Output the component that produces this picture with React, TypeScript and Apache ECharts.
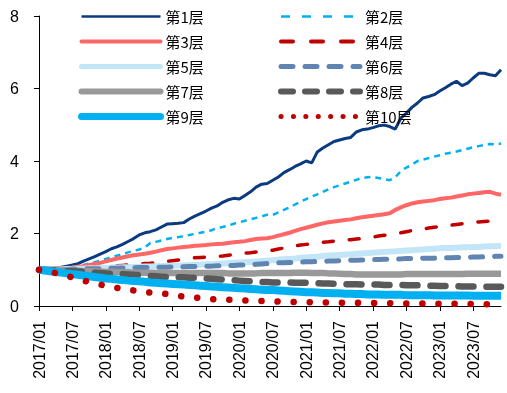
import React, { useEffect, useRef } from "react";
import * as echarts from "echarts";

// monthly categories 2017/01 .. 2023/12
const months: string[] = [];
for (let y = 2017; y <= 2023; y++) {
  for (let m = 1; m <= 12; m++) months.push(`${y}/${m < 10 ? "0" + m : m}`);
}

const names = ["第1层", "第2层", "第3层", "第4层", "第5层", "第6层", "第7层", "第8层", "第9层", "第10层"];

const s1 = [
  1.00,1.01,1.03,1.05,1.07,1.10,1.13,1.17,1.24,1.30,1.36,1.43,
  1.50,1.58,1.63,1.70,1.78,1.86,1.96,2.02,2.05,2.10,2.18,2.26,
  2.27,2.28,2.30,2.40,2.48,2.55,2.62,2.70,2.76,2.86,2.93,2.97,
  2.95,3.05,3.15,3.28,3.36,3.38,3.47,3.56,3.68,3.76,3.85,3.92,
  4.00,3.95,4.25,4.36,4.45,4.54,4.58,4.62,4.65,4.80,4.86,4.88,
  4.92,4.97,4.99,4.95,4.88,5.18,5.32,5.48,5.60,5.74,5.78,5.83,
  5.93,6.02,6.12,6.20,6.08,6.15,6.29,6.42,6.42,6.38,6.35,6.52,
];
const s2 = [
  1.00,1.01,1.02,1.03,1.04,1.06,1.08,1.10,1.13,1.17,1.21,1.25,
  1.30,1.35,1.39,1.43,1.48,1.52,1.56,1.61,1.74,1.77,1.81,1.85,
  1.88,1.90,1.93,1.96,1.99,2.02,2.05,2.09,2.15,2.18,2.22,2.27,
  2.31,2.35,2.39,2.43,2.47,2.52,2.51,2.58,2.65,2.72,2.80,2.88,
  2.95,3.02,3.08,3.15,3.22,3.28,3.33,3.38,3.43,3.48,3.53,3.55,
  3.56,3.53,3.50,3.47,3.55,3.72,3.82,3.90,4.00,4.04,4.08,4.12,
  4.16,4.20,4.23,4.26,4.30,4.34,4.38,4.41,4.44,4.47,4.46,4.48,
];
const s3 = [
  1.00,1.01,1.02,1.03,1.04,1.05,1.06,1.08,1.10,1.13,1.16,1.19,
  1.23,1.27,1.31,1.34,1.37,1.40,1.42,1.44,1.47,1.50,1.54,1.57,
  1.59,1.61,1.63,1.64,1.66,1.67,1.68,1.70,1.71,1.72,1.74,1.76,
  1.77,1.79,1.82,1.85,1.86,1.87,1.90,1.94,1.98,2.02,2.07,2.12,
  2.16,2.20,2.24,2.28,2.31,2.33,2.35,2.37,2.39,2.42,2.45,2.47,
  2.49,2.51,2.53,2.56,2.65,2.72,2.78,2.83,2.86,2.88,2.90,2.92,
  2.95,2.97,2.99,3.02,3.05,3.08,3.10,3.12,3.14,3.15,3.10,3.07,
];
const s4 = [
  1.00,1.00,1.01,1.01,1.02,1.02,1.03,1.04,1.05,1.06,1.07,1.08,
  1.09,1.10,1.11,1.12,1.13,1.14,1.15,1.17,1.18,1.20,1.21,1.23,
  1.25,1.27,1.29,1.31,1.33,1.34,1.35,1.36,1.37,1.38,1.40,1.42,
  1.44,1.46,1.47,1.49,1.51,1.52,1.54,1.57,1.60,1.63,1.66,1.68,
  1.70,1.72,1.74,1.76,1.77,1.79,1.81,1.82,1.83,1.85,1.86,1.88,
  1.90,1.93,1.95,1.97,1.99,2.02,2.05,2.08,2.10,2.12,2.15,2.17,
  2.19,2.21,2.23,2.25,2.27,2.29,2.31,2.32,2.33,2.34,2.35,2.35,
];
const s5 = [
  1.00,1.00,1.01,1.01,1.01,1.02,1.02,1.03,1.03,1.04,1.04,1.05,
  1.05,1.06,1.06,1.07,1.07,1.08,1.08,1.09,1.09,1.10,1.10,1.11,
  1.11,1.12,1.12,1.13,1.13,1.14,1.15,1.15,1.16,1.17,1.18,1.19,
  1.20,1.21,1.22,1.23,1.24,1.25,1.26,1.28,1.29,1.30,1.31,1.33,
  1.34,1.35,1.36,1.38,1.39,1.40,1.41,1.42,1.43,1.44,1.45,1.46,
  1.47,1.48,1.49,1.50,1.51,1.52,1.53,1.54,1.55,1.56,1.57,1.58,
  1.59,1.60,1.60,1.61,1.62,1.62,1.63,1.63,1.64,1.65,1.65,1.66,
];
const s6 = [
  1.00,1.00,1.00,1.01,1.01,1.01,1.02,1.02,1.02,1.03,1.03,1.03,
  1.04,1.04,1.04,1.05,1.05,1.05,1.06,1.06,1.06,1.07,1.07,1.07,
  1.08,1.08,1.08,1.09,1.09,1.10,1.10,1.10,1.11,1.11,1.12,1.12,
  1.13,1.13,1.14,1.15,1.16,1.17,1.18,1.19,1.19,1.20,1.21,1.21,
  1.22,1.22,1.23,1.23,1.24,1.24,1.25,1.25,1.26,1.26,1.27,1.27,
  1.28,1.28,1.29,1.29,1.30,1.30,1.31,1.31,1.31,1.32,1.32,1.32,
  1.33,1.33,1.33,1.34,1.34,1.34,1.35,1.35,1.36,1.36,1.37,1.37,
];
const s7 = [
  1.00,1.00,0.99,0.99,0.98,0.98,0.97,0.97,0.96,0.96,0.95,0.95,
  0.94,0.94,0.93,0.93,0.93,0.92,0.92,0.92,0.92,0.91,0.91,0.91,
  0.91,0.91,0.91,0.91,0.91,0.91,0.91,0.91,0.91,0.91,0.90,0.90,
  0.90,0.90,0.90,0.90,0.91,0.91,0.91,0.91,0.91,0.91,0.92,0.92,
  0.92,0.91,0.91,0.91,0.90,0.90,0.89,0.88,0.88,0.87,0.87,0.87,
  0.87,0.87,0.87,0.87,0.87,0.87,0.88,0.88,0.88,0.88,0.88,0.88,
  0.88,0.88,0.88,0.88,0.88,0.89,0.89,0.89,0.89,0.89,0.89,0.89,
];
const s8 = [
  1.00,0.99,0.99,0.98,0.97,0.96,0.96,0.95,0.94,0.93,0.92,0.91,
  0.90,0.89,0.89,0.88,0.87,0.86,0.85,0.84,0.83,0.82,0.81,0.80,
  0.80,0.79,0.79,0.78,0.78,0.77,0.76,0.75,0.74,0.73,0.72,0.71,
  0.70,0.69,0.68,0.67,0.66,0.66,0.65,0.65,0.65,0.65,0.64,0.64,
  0.64,0.63,0.63,0.62,0.62,0.61,0.61,0.60,0.60,0.60,0.59,0.59,
  0.59,0.59,0.58,0.58,0.58,0.58,0.57,0.57,0.57,0.56,0.56,0.56,
  0.55,0.55,0.55,0.55,0.54,0.54,0.54,0.54,0.53,0.53,0.53,0.53,
];
const s9 = [
  1.00,0.98,0.96,0.94,0.92,0.90,0.88,0.86,0.84,0.82,0.80,0.78,
  0.76,0.75,0.73,0.72,0.70,0.69,0.68,0.67,0.65,0.64,0.63,0.62,
  0.61,0.60,0.59,0.58,0.57,0.56,0.55,0.54,0.53,0.52,0.51,0.50,
  0.49,0.48,0.47,0.46,0.45,0.44,0.44,0.43,0.42,0.41,0.40,0.39,
  0.38,0.38,0.37,0.36,0.36,0.35,0.35,0.34,0.34,0.33,0.33,0.32,
  0.32,0.32,0.31,0.31,0.31,0.31,0.30,0.30,0.30,0.30,0.30,0.29,
  0.29,0.29,0.29,0.29,0.29,0.29,0.28,0.28,0.28,0.28,0.28,0.28,
];
const s10 = [
  1.00,0.97,0.94,0.91,0.87,0.83,0.79,0.74,0.70,0.66,0.62,0.59,
  0.56,0.53,0.50,0.48,0.45,0.43,0.40,0.38,0.37,0.36,0.35,0.33,
  0.30,0.28,0.26,0.24,0.23,0.22,0.20,0.19,0.18,0.18,0.17,0.17,
  0.16,0.15,0.15,0.14,0.14,0.13,0.13,0.12,0.12,0.12,0.11,0.11,
  0.11,0.10,0.10,0.10,0.10,0.09,0.09,0.09,0.09,0.09,0.08,0.08,
  0.08,0.08,0.08,0.08,0.07,0.07,0.07,0.07,0.07,0.07,0.07,0.06,
  0.06,0.06,0.06,0.06,0.06,0.06,0.05,0.05,0.05,0.05,0.05,0.05,
];

const seriesData = [s1, s2, s3, s4, s5, s6, s7, s8, s9, s10];
const colors = ["#0b3a7e", "#00b0f0", "#ff6666", "#c00000", "#c2e6f7", "#6185b2", "#999999", "#595959", "#00b0f0", "#c00000"];

const chartLine: any[] = [
  { width: 3, type: "solid" },
  { width: 2.5, type: [6, 5] },
  { width: 4, type: "solid" },
  { width: 3.5, type: [10, 16], cap: "round" },
  { width: 6, type: "solid" },
  { width: 5, type: [12, 12], cap: "round" },
  { width: 6.5, type: "solid" },
  { width: 6.5, type: [15, 13], cap: "round" },
  { width: 8, type: "solid" },
  { width: 6.5, type: [0.1, 16], cap: "round" },
];
const legendLine: any[] = [
  { width: 2.5, type: "solid" },
  { width: 2.5, type: [9, 12] },
  { width: 4, type: "solid", cap: "round" },
  { width: 4, type: [12, 18], cap: "round" },
  { width: 5, type: "solid", cap: "round" },
  { width: 5, type: [12, 12], cap: "round" },
  { width: 6, type: "solid", cap: "round" },
  { width: 6, type: [12, 12], cap: "round" },
  { width: 7, type: "solid", cap: "round" },
  { width: 5, type: [0.1, 12.3], cap: "round" },
];

export default function App() {
  const ref = useRef<HTMLDivElement>(null);
  useEffect(() => {
    if (!ref.current) return;
    const chart = echarts.init(ref.current, undefined, { renderer: "svg" });
    const legendText = { fontFamily: "Noto Sans CJK SC", fontSize: 15, color: "#000" };
    const mkLegend = (idx: number[], left: number) => ({
      orient: "vertical",
      left,
      top: 9,
      padding: 0,
      itemWidth: 79,
      itemHeight: 14,
      itemGap: 10,
      selectedMode: false,
      textStyle: legendText,
      data: idx.map((i) => ({
        name: names[i],
        itemStyle: { opacity: 0 },
        lineStyle: { color: colors[i], ...legendLine[i] },
      })),
    });
    chart.setOption({
      animation: false,
      grid: { left: 39, right: 6, top: 16, bottom: 87 },
      legend: [mkLegend([0, 2, 4, 6, 8], 78), mkLegend([1, 3, 5, 7, 9], 278)],
      xAxis: {
        type: "category",
        data: months,
        boundaryGap: false,
        axisLine: { lineStyle: { color: "#000", width: 1 } },
        axisTick: { interval: 5, length: 5, lineStyle: { color: "#000" } },
        axisLabel: {
          interval: 5,
          rotate: 90,
          margin: 15,
          fontFamily: "Liberation Sans",
          fontSize: 16,
          color: "#000",
        },
        splitLine: { show: false },
      },
      yAxis: {
        type: "value",
        min: 0,
        max: 8,
        interval: 2,
        axisLine: { show: true, lineStyle: { color: "#000", width: 1 } },
        axisTick: { show: true, length: 5, lineStyle: { color: "#000" } },
        axisLabel: { margin: 20, fontFamily: "Liberation Sans", fontSize: 16, color: "#000" },
        splitLine: { show: false },
      },
      series: seriesData.map((d, i) => ({
        name: names[i],
        type: "line",
        data: d,
        symbol: "none",
        silent: true,
        color: colors[i],
        lineStyle: { color: colors[i], ...chartLine[i] },
        emphasis: { disabled: true },
      })),
    });
    return () => chart.dispose();
  }, []);
  return <div ref={ref} style={{ position: "fixed", left: 0, top: 0, width: 507, height: 393 }} />;
}
